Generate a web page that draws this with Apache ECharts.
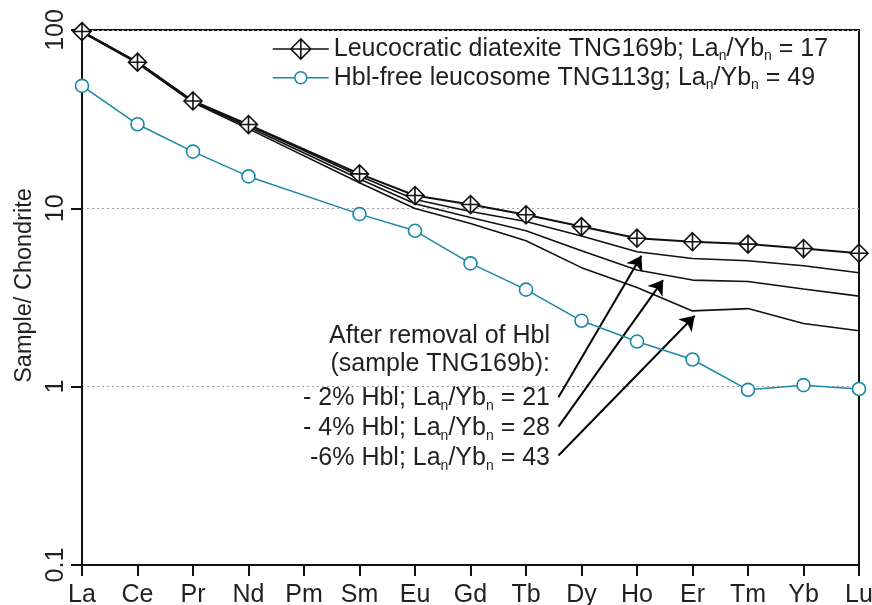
<!DOCTYPE html>
<html>
<head>
<meta charset="utf-8">
<script src="https://cdn.jsdelivr.net/npm/echarts@6/dist/echarts.min.js"></script>
<style>
  html, body { margin: 0; padding: 0; background: #fff; }
  #chart { width: 872px; height: 605px; }
</style>
</head>
<body>
<div id="chart"></div>
<script>
// Rare earth elements, chondrite-normalised
const elements = ['La', 'Ce', 'Pr', 'Nd', 'Pm', 'Sm', 'Eu', 'Gd', 'Tb', 'Dy', 'Ho', 'Er', 'Tm', 'Yb', 'Lu'];

// Leucocratic diatexite TNG169b
const tng169b = [98, 66, 40, 29.5, null, 15.6, 11.8, 10.5, 9.2, 7.9, 6.8, 6.5, 6.3, 5.95, 5.6];
// TNG169b after removal of 2 %, 4 % and 6 % hornblende
const minus2Hbl = [98, 66, 40, 29.2, null, 15.2, 11.2, 9.6, 8.43, 7.0, 5.71, 5.23, 5.08, 4.76, 4.35];
const minus4Hbl = [98, 65.5, 39.6, 28.6, null, 14.6, 10.6, 8.88, 7.48, 5.78, 4.51, 3.96, 3.89, 3.53, 3.22];
const minus6Hbl = [97, 65, 39.2, 27.9, null, 13.9, 9.97, 8.22, 6.58, 4.65, 3.60, 2.66, 2.74, 2.26, 2.06];
// Hbl-free leucosome TNG113g
const tng113g = [48.6, 29.6, 20.8, 15.1, null, 9.28, 7.48, 4.91, 3.5, 2.34, 1.79, 1.42, 0.96, 1.02, 0.97];

// Callout arrows: [elementPosition, value] from text to curve
const arrowFrom = [[8.585, 0.871], [8.585, 0.597], [8.585, 0.411]];
const arrowTo = [[10.08, 5.42], [10.47, 3.96], [11.04, 2.50]];

const legendNames = [
  'Leucocratic diatexite TNG169b; La_n/Yb_n = 17',
  'Hbl-free leucosome TNG113g; La_n/Yb_n = 49'
];
const noteLines = [
  'After removal of Hbl',
  '(sample TNG169b):',
  '- 2% Hbl; La_n/Yb_n = 21',
  '- 4% Hbl; La_n/Yb_n = 28',
  '-6% Hbl; La_n/Yb_n = 43'
];

const FONT = '"Liberation Sans", Arial, Helvetica, sans-serif';
const INK = '#231f20';
const BLUE = '#1a87a6';

const toPairs = arr => arr.map((v, i) => [i, v]).filter(p => p[1] !== null);
const withSub = s => s.replace(/_n/g, '{s|n}');

const richSub = {
  s: { fontSize: 14, lineHeight: 10, verticalAlign: 'bottom', fontFamily: FONT, color: INK }
};

const diamondSymbol = 'path://M0,-10 L10,0 L0,10 L-10,0 Z M0,-10 L0,10 M-10,0 L10,0';
const diamondIcon = 'path://M0,0 M56,20 M0,10 L18,10 M38,10 L56,10 M18,10 L28,0 L38,10 L28,20 Z M28,0 L28,20 M18,10 L38,10';
const circleIcon = 'path://M0,0 M56,20 M0,10 L22,10 M34,10 L56,10 M34,10 A6,6 0 1 1 22,10 A6,6 0 1 1 34,10 Z';

const chart = echarts.init(document.getElementById('chart'), null, { renderer: 'canvas' });

const noteCenters = [336.3, 364, 398.3, 428.3, 458];

chart.setOption({
  animation: false,
  backgroundColor: '#fff',
  textStyle: { fontFamily: FONT },
  grid: {
    left: 82, right: 13, top: 30, bottom: 40,
    outerBoundsMode: 'none', containLabel: false,
    show: true, borderColor: '#111', borderWidth: 2, backgroundColor: 'transparent'
  },
  legend: {
    orient: 'vertical',
    left: 272, top: 35,
    padding: 0,
    itemWidth: 56, itemHeight: 20, itemGap: 0.7,
    selectedMode: false,
    textStyle: { fontSize: 25, lineHeight: 28, color: INK, fontFamily: FONT, rich: richSub },
    formatter: name => withSub(name),
    data: [
      { name: legendNames[0], icon: diamondIcon,
        itemStyle: { color: '#fff', borderColor: '#111', borderWidth: 1.6 } },
      { name: legendNames[1], icon: circleIcon,
        itemStyle: { color: '#fff', borderColor: BLUE, borderWidth: 1.6 } }
    ]
  },
  xAxis: {
    type: 'value', min: 0, max: elements.length - 1, interval: 1,
    axisLine: { show: true, lineStyle: { color: '#111', width: 2 } },
    axisTick: { show: true, length: 11, lineStyle: { color: '#111', width: 2 } },
    axisLabel: { margin: 18, fontSize: 25, color: INK, fontFamily: FONT,
      formatter: v => elements[Math.round(v)] || '' },
    splitLine: { show: false }
  },
  yAxis: {
    type: 'log', logBase: 10, min: 0.1, max: 100,
    name: 'Sample/ Chondrite', nameLocation: 'middle', nameGap: 44,
    nameTextStyle: { fontSize: 23.5, color: INK, fontFamily: FONT, padding: [0, 0, 0, 24] },
    axisLine: { show: true, lineStyle: { color: '#111', width: 2 } },
    axisTick: { show: true, length: 11, lineStyle: { color: '#111', width: 2 } },
    axisLabel: { rotate: 90, margin: 13, fontSize: 25, color: INK, fontFamily: FONT },
    minorTick: { show: false },
    splitLine: { show: true, lineStyle: { color: '#a0a0a0', width: 1, type: [2, 3] } }
  },
  series: [
    {
      name: '-6% Hbl', type: 'line', data: toPairs(minus6Hbl), symbol: 'none',
      lineStyle: { color: '#111', width: 1.6 }, z: 2, silent: true
    },
    {
      name: '-4% Hbl', type: 'line', data: toPairs(minus4Hbl), symbol: 'none',
      lineStyle: { color: '#111', width: 1.6 }, z: 2, silent: true
    },
    {
      name: '-2% Hbl', type: 'line', data: toPairs(minus2Hbl), symbol: 'none',
      lineStyle: { color: '#111', width: 1.6 }, z: 2, silent: true,
      markLine: {
        silent: true,
        symbol: ['none', 'arrow'],
        symbolSize: 14,
        itemStyle: { color: '#000' },
        lineStyle: { color: '#000', width: 2, type: 'solid' },
        label: { show: false },
        emphasis: { disabled: true },
        data: arrowFrom.map((p, i) => [{ coord: p }, { coord: arrowTo[i] }])
      }
    },
    {
      name: legendNames[0], type: 'line', data: toPairs(tng169b),
      symbol: diamondSymbol, symbolSize: 18,
      itemStyle: { color: '#fff', borderColor: '#111', borderWidth: 1.6 },
      lineStyle: { color: '#111', width: 2 }, z: 4, silent: true
    },
    {
      name: legendNames[1], type: 'line', data: toPairs(tng113g),
      symbol: 'circle', symbolSize: 13,
      itemStyle: { color: '#fff', borderColor: BLUE, borderWidth: 1.6 },
      lineStyle: { color: BLUE, width: 1.5 }, z: 5, silent: true
    }
  ],
  graphic: noteLines.map((t, i) => ({
    type: 'text',
    x: 550, y: noteCenters[i],
    silent: true,
    style: {
      text: withSub(t),
      align: 'right', verticalAlign: 'middle',
      fontSize: 25, lineHeight: 30, fontFamily: FONT, fill: INK,
      rich: richSub
    }
  }))
});
</script>
</body>
</html>
